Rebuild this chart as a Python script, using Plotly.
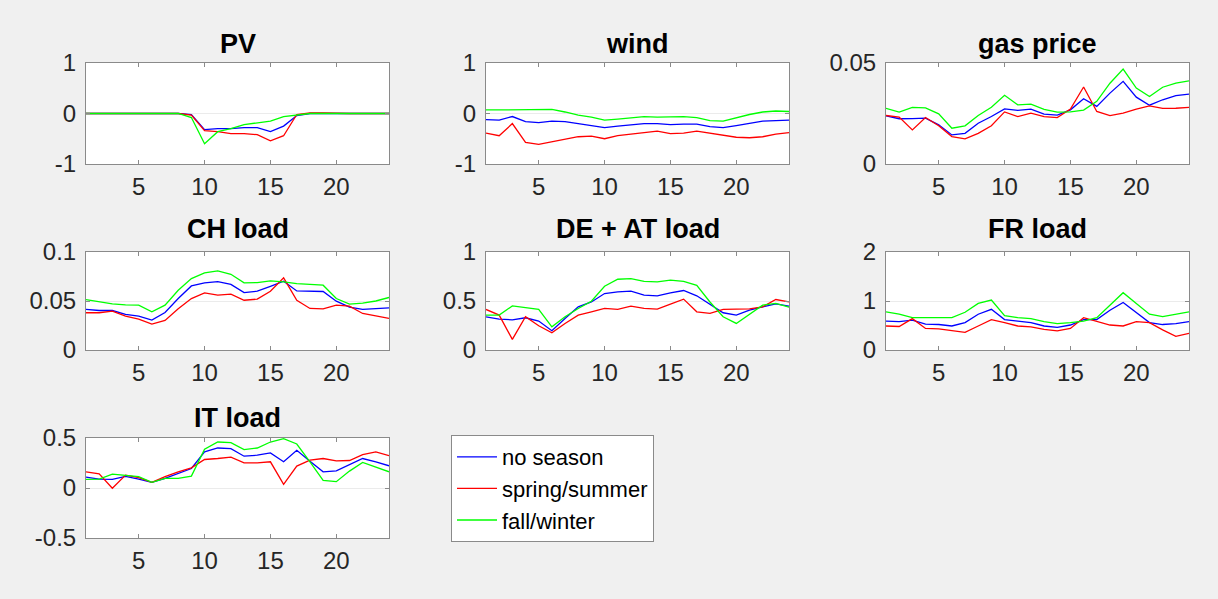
import plotly.graph_objects as go

hours = list(range(1, 25))

series_names = ["no season", "spring/summer", "fall/winter"]
series_colors = ["#0000ff", "#ff0000", "#00ff00"]

titles = ["PV", "wind", "gas price", "CH load", "DE + AT load", "FR load", "IT load"]

# PV
pv_none = [0, 0, 0, 0, 0, 0, 0, 0, -0.02, -0.32, -0.30, -0.30, -0.28, -0.28, -0.36, -0.25, -0.04, 0, 0, 0, 0, 0, 0, 0]
pv_summer = [0, 0, 0, 0, 0, 0, 0, 0, -0.03, -0.34, -0.36, -0.40, -0.40, -0.42, -0.54, -0.44, -0.02, 0.01, 0.01, 0, 0, 0, 0, 0]
pv_winter = [0, 0, 0, 0, 0, 0, 0, 0, -0.08, -0.60, -0.36, -0.30, -0.22, -0.19, -0.15, -0.06, -0.03, 0, 0, 0, 0, 0, 0, 0]

# wind
wind_none = [-0.12, -0.13, -0.06, -0.16, -0.18, -0.15, -0.16, -0.20, -0.23, -0.28, -0.25, -0.22, -0.20, -0.20, -0.22, -0.21, -0.21, -0.26, -0.28, -0.24, -0.19, -0.15, -0.14, -0.13]
wind_summer = [-0.39, -0.44, -0.20, -0.57, -0.61, -0.56, -0.50, -0.46, -0.45, -0.50, -0.44, -0.41, -0.38, -0.35, -0.40, -0.39, -0.35, -0.39, -0.44, -0.47, -0.48, -0.46, -0.41, -0.38]
wind_winter = [0.07, 0.07, 0.07, 0.08, 0.08, 0.08, 0.03, -0.03, -0.07, -0.13, -0.11, -0.09, -0.06, -0.07, -0.06, -0.06, -0.08, -0.14, -0.15, -0.08, -0.02, 0.03, 0.05, 0.04]

# gas price
gas_none = [0.0238, 0.0224, 0.0225, 0.0227, 0.0194, 0.0144, 0.0152, 0.0202, 0.0235, 0.0273, 0.0265, 0.0272, 0.0247, 0.0242, 0.0268, 0.0323, 0.0285, 0.0351, 0.0409, 0.0331, 0.0291, 0.0318, 0.0338, 0.0346]
gas_summer = [0.0240, 0.0232, 0.0169, 0.0230, 0.0189, 0.0136, 0.0124, 0.0152, 0.0189, 0.0258, 0.0235, 0.0252, 0.0235, 0.0230, 0.0272, 0.0381, 0.0260, 0.0240, 0.0252, 0.0272, 0.0288, 0.0275, 0.0276, 0.0280]
gas_winter = [0.0276, 0.0257, 0.0280, 0.0278, 0.0248, 0.0177, 0.0189, 0.0240, 0.0281, 0.0340, 0.0293, 0.0296, 0.0270, 0.0257, 0.0258, 0.0267, 0.0310, 0.0400, 0.0470, 0.0376, 0.0334, 0.0380, 0.0400, 0.0412]

# CH load
ch_none = [0.0414, 0.0403, 0.0403, 0.0363, 0.0346, 0.0305, 0.0383, 0.0525, 0.0654, 0.0685, 0.0698, 0.0670, 0.0586, 0.0600, 0.0650, 0.0702, 0.0603, 0.0597, 0.0597, 0.0498, 0.0437, 0.0414, 0.0424, 0.0430]
ch_summer = [0.0380, 0.0380, 0.0397, 0.0346, 0.0315, 0.0264, 0.0302, 0.0420, 0.0525, 0.0583, 0.0560, 0.0570, 0.0508, 0.0519, 0.0600, 0.0736, 0.0508, 0.0424, 0.0420, 0.0458, 0.0447, 0.0373, 0.0349, 0.0322]
ch_winter = [0.0515, 0.0490, 0.0470, 0.0460, 0.0458, 0.0390, 0.0458, 0.0610, 0.0729, 0.0786, 0.0807, 0.0773, 0.0685, 0.0688, 0.0705, 0.0695, 0.0678, 0.0670, 0.0661, 0.0525, 0.0468, 0.0478, 0.0500, 0.0536]

# DE + AT load
de_none = [0.339, 0.315, 0.308, 0.329, 0.295, 0.197, 0.322, 0.440, 0.490, 0.576, 0.593, 0.600, 0.560, 0.553, 0.583, 0.607, 0.553, 0.468, 0.380, 0.356, 0.407, 0.440, 0.471, 0.447]
de_summer = [0.414, 0.356, 0.108, 0.339, 0.247, 0.176, 0.271, 0.356, 0.390, 0.424, 0.414, 0.447, 0.424, 0.417, 0.468, 0.519, 0.390, 0.373, 0.414, 0.414, 0.420, 0.440, 0.515, 0.490]
de_winter = [0.356, 0.356, 0.450, 0.430, 0.414, 0.237, 0.340, 0.424, 0.498, 0.650, 0.722, 0.729, 0.700, 0.695, 0.712, 0.700, 0.660, 0.490, 0.339, 0.271, 0.366, 0.458, 0.475, 0.437]

# FR load
fr_none = [0.59, 0.58, 0.61, 0.53, 0.52, 0.49, 0.56, 0.73, 0.83, 0.62, 0.59, 0.56, 0.49, 0.46, 0.51, 0.62, 0.62, 0.81, 0.97, 0.77, 0.56, 0.52, 0.54, 0.58]
fr_summer = [0.49, 0.48, 0.64, 0.44, 0.43, 0.39, 0.36, 0.49, 0.62, 0.56, 0.49, 0.47, 0.42, 0.39, 0.44, 0.66, 0.59, 0.51, 0.49, 0.58, 0.56, 0.41, 0.28, 0.34]
fr_winter = [0.78, 0.73, 0.66, 0.66, 0.66, 0.66, 0.77, 0.95, 1.02, 0.70, 0.66, 0.64, 0.58, 0.54, 0.56, 0.59, 0.66, 0.92, 1.17, 0.95, 0.73, 0.68, 0.73, 0.78]

# IT load
it_none = [0.109, 0.089, 0.086, 0.116, 0.089, 0.056, 0.096, 0.146, 0.195, 0.361, 0.400, 0.394, 0.318, 0.328, 0.351, 0.262, 0.377, 0.268, 0.162, 0.172, 0.235, 0.295, 0.262, 0.222]
it_summer = [0.162, 0.142, -0.003, 0.129, 0.103, 0.056, 0.113, 0.162, 0.202, 0.285, 0.295, 0.308, 0.252, 0.252, 0.262, 0.036, 0.219, 0.278, 0.295, 0.272, 0.275, 0.334, 0.361, 0.324]
it_winter = [0.086, 0.089, 0.139, 0.123, 0.113, 0.056, 0.096, 0.096, 0.119, 0.387, 0.460, 0.454, 0.384, 0.400, 0.460, 0.493, 0.440, 0.262, 0.076, 0.063, 0.169, 0.255, 0.212, 0.162]

panel_data = [
    (pv_none, pv_summer, pv_winter),
    (wind_none, wind_summer, wind_winter),
    (gas_none, gas_summer, gas_winter),
    (ch_none, ch_summer, ch_winter),
    (de_none, de_summer, de_winter),
    (fr_none, fr_summer, fr_winter),
    (it_none, it_summer, it_winter),
]

y_ranges = [[-1, 1], [-1, 1], [0, 0.05], [0, 0.1], [0, 1], [0, 2], [-0.5, 0.5]]
y_tickvals = [[-1, 0, 1], [-1, 0, 1], [0, 0.05], [0, 0.05, 0.1], [0, 0.5, 1], [0, 1, 2], [-0.5, 0, 0.5]]
y_ticktext = [["-1", "0", "1"], ["-1", "0", "1"], ["0", "0.05"], ["0", "0.05", "0.1"],
              ["0", "0.5", "1"], ["0", "1", "2"], ["-0.5", "0", "0.5"]]
x_tickvals = [5, 10, 15, 20]
x_ticktext = ["5", "10", "15", "20"]

# layout geometry (pixels)
W, H = 1218, 599
col_px = [(86, 389), (486, 789), (886, 1189)]
row_px = [(63, 164), (252, 350), (438, 538)]
title_center_px = [44, 229, 418]

FONT = "Arial, Liberation Sans, sans-serif"
TICK_COLOR = "#262626"
LINE_COLOR = "#8a8a8a"

fig = go.Figure()
layout = dict(
    width=W, height=H, autosize=False,
    margin=dict(l=0, r=0, t=0, b=0, pad=0, autoexpand=False),
    paper_bgcolor="#f0f0f0", plot_bgcolor="#ffffff",
    font=dict(family=FONT, size=24, color=TICK_COLOR),
    showlegend=True,
    legend=dict(
        x=451 / W, y=1 - 435 / H, xanchor="left", yanchor="top",
        bgcolor="#ffffff", bordercolor="#8a8a8a", borderwidth=1,
        font=dict(family=FONT, size=22, color="#000000"),
        tracegroupgap=0, itemwidth=40,
    ),
)
annotations = []

for i, (title, data) in enumerate(zip(titles, panel_data)):
    r, c = divmod(i, 3)
    k = "" if i == 0 else str(i + 1)
    x0, x1 = col_px[c]
    y0, y1 = row_px[r]
    layout["xaxis" + k] = dict(
        domain=[x0 / W, x1 / W], anchor="y" + k, range=[1, 24],
        tickmode="array", tickvals=x_tickvals, ticktext=x_ticktext,
        ticks="inside", ticklen=4, tickcolor=LINE_COLOR,
        showline=True, linecolor=LINE_COLOR, linewidth=1, mirror="ticks",
        showgrid=False, zeroline=False, ticklabelstandoff=1, automargin=False,
        tickfont=dict(family=FONT, size=24, color=TICK_COLOR),
    )
    layout["yaxis" + k] = dict(
        domain=[1 - y1 / H, 1 - y0 / H], anchor="x" + k, range=y_ranges[i],
        tickmode="array", tickvals=y_tickvals[i], ticktext=y_ticktext[i],
        ticks="inside", ticklen=4, tickcolor=LINE_COLOR,
        showline=True, linecolor=LINE_COLOR, linewidth=1, mirror="ticks",
        showgrid=True, gridcolor="#ebebeb", gridwidth=1, zeroline=False,
        ticklabelstandoff=4, automargin=False,
        tickfont=dict(family=FONT, size=24, color=TICK_COLOR),
    )
    for name, color, ys in zip(series_names, series_colors, data):
        fig.add_trace(go.Scatter(
            x=hours, y=ys, mode="lines", name=name,
            line=dict(color=color, width=1.3),
            xaxis="x" + k, yaxis="y" + k,
            legendgroup=name, showlegend=(i == 0),
        ))
    annotations.append(dict(
        text="<b>" + title + "</b>", xref="paper", yref="paper",
        x=(x0 + x1) / 2 / W, y=1 - title_center_px[r] / H,
        xanchor="center", yanchor="middle", showarrow=False,
        font=dict(family=FONT, size=27, color="#000000"),
    ))

layout["annotations"] = annotations
fig.update_layout(**layout)
fig.write_html("out.html")
